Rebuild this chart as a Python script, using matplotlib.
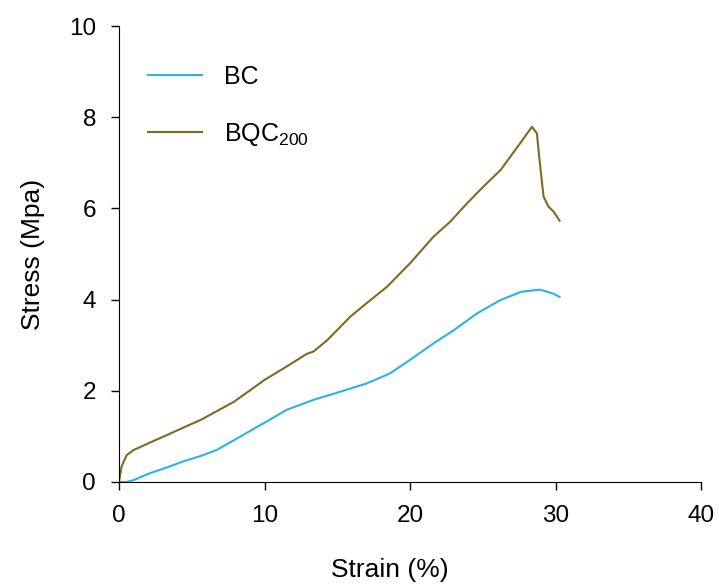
import matplotlib.pyplot as plt

# strain (%) / stress (MPa)
bc_strain = [0, 0.5, 1.0, 2.1, 3.3, 4.4, 5.6, 6.7, 8.3, 10.1, 11.5, 13.35, 15.2,
             17.0, 18.6, 20.0, 21.6, 23.0, 24.6, 26.2, 27.6, 28.9, 29.85, 30.26]
bc_stress = [0, 0.0, 0.04, 0.19, 0.32, 0.45, 0.57, 0.70, 0.99, 1.32, 1.58, 1.80, 1.98,
             2.16, 2.38, 2.68, 3.04, 3.33, 3.70, 3.99, 4.17, 4.22, 4.13, 4.06]

bqc_strain = [0, 0.18, 0.53, 1.0, 2.1, 3.3, 4.4, 5.6, 6.7, 7.9, 10.0, 11.5, 12.9, 13.35,
              14.3, 15.9, 17.0, 18.4, 20.0, 21.6, 22.75, 23.9, 25.0, 26.2, 27.6,
              28.36, 28.7, 28.93, 29.16, 29.5, 29.85, 30.26]
bqc_stress = [0, 0.34, 0.59, 0.70, 0.86, 1.03, 1.19, 1.36, 1.55, 1.76, 2.24, 2.53, 2.81, 2.86,
              3.11, 3.63, 3.92, 4.28, 4.80, 5.38, 5.71, 6.11, 6.47, 6.84, 7.45,
              7.79, 7.65, 6.92, 6.26, 6.04, 5.93, 5.73]

labels = ['BC', 'BQC$_{200}$']
colors = ['#2ab4e2', '#7d6b22']

plt.rcParams['font.family'] = ['Liberation Sans', 'DejaVu Sans']
plt.rcParams['mathtext.fontset'] = 'custom'
plt.rcParams['mathtext.rm'] = 'Liberation Sans'
plt.rcParams['mathtext.it'] = 'Liberation Sans'

fig = plt.figure(figsize=(7.19, 5.86), dpi=100)
ax = fig.add_axes([0.1655, 0.1775, 0.81, 0.778])

ax.plot(bc_strain, bc_stress, color=colors[0], lw=1.5, label=labels[0])
ax.plot(bqc_strain, bqc_stress, color=colors[1], lw=1.5, label=labels[1])

ax.set_xlim(0, 40)
ax.set_ylim(0, 10)
ax.set_xticks([0, 10, 20, 30, 40])
ax.set_yticks([0, 2, 4, 6, 8, 10])
ax.spines['top'].set_visible(False)
ax.spines['right'].set_visible(False)
ax.tick_params(direction='out', length=5.5, width=1, labelsize=17.5, pad=11)
ax.set_xlabel('Strain (%)', fontsize=19)
ax.set_ylabel('Stress (Mpa)', fontsize=19, labelpad=17)
ax.xaxis.set_label_coords(0.4656, -0.167)

ax.legend(loc='upper left', frameon=False, fontsize=18, handlelength=2.16,
          handletextpad=0.88, labelspacing=1.3, bbox_to_anchor=(0.011, 0.965))

fig.savefig('out.png', dpi=100)
